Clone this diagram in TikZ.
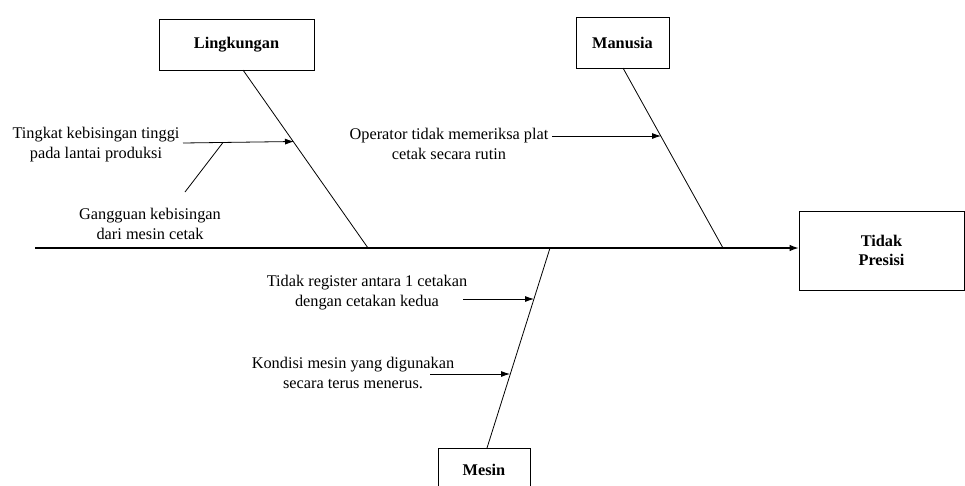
\documentclass[tikz,border=0pt]{standalone}
\usepackage{fontspec}
\setmainfont{Liberation Serif}
\usetikzlibrary{arrows.meta}
\begin{document}
\begin{tikzpicture}[x=1pt,y=-1pt,
  box/.style={draw,line width=0.8pt,inner sep=0pt,font=\fontsize{16.3}{19}\selectfont\bfseries,align=center},
  lbl/.style={inner sep=0pt,font=\fontsize{16.3}{20}\selectfont,align=center},
  bone/.style={line width=0.8pt},
  cause/.style={line width=0.8pt,-{Latex[length=9pt,width=6pt]}},
  spine/.style={line width=1.1pt,-{Latex[length=9pt,width=6.5pt]}}]
\useasboundingbox (0,0) rectangle (965,485);
% boxes
\node[box,minimum width=155pt,minimum height=51pt] (ling) at (236.5,44.5) {Lingkungan};
\node[box,minimum width=93pt,minimum height=51pt] (manu) at (622.5,42.5) {Manusia};
\node[box,minimum width=92pt,minimum height=60pt] (mesin) at (484,478) {};
\node[font=\fontsize{16.3}{19}\selectfont\bfseries] (mesinL) at (484,470) {Mesin};
\node[box,minimum width=165pt,minimum height=79pt] (effect) at (881.5,250.5) {Tidak\\Presisi};
% spine
\coordinate (tail) at (35,248);
\draw[spine] (tail) -- (tail -| effect.west);
% bone ends on spine
\coordinate (lingS) at (368,248);
\coordinate (manuS) at (723,248);
\coordinate (mesinS) at (550,248);
\coordinate (lingT) at (243,70);
\coordinate (manuT) at (623,68);
\coordinate (mesinT) at (487,448);
\draw[bone] (lingT) -- (lingS);
\draw[bone] (manuT) -- (manuS);
\draw[bone] (mesinT) -- (mesinS);
% cause texts
\node[lbl] (t1) at (96,145) {Tingkat kebisingan tinggi\\pada lantai produksi};
\node[lbl] (t2) at (150,224) {Gangguan kebisingan\\dari mesin cetak};
\node[lbl] (t3) at (449,144) {Operator tidak memeriksa plat\\cetak secara rutin};
\node[lbl] (t4) at (367,293) {Tidak register antara 1 cetakan\\dengan cetakan kedua};
\node[lbl] (t5) at (353,373) {Kondisi mesin yang digunakan\\secara terus menerus.};
% arrows
\coordinate (a1s) at (183,143);
\coordinate (a1e) at (294,141.5);
\coordinate (j1) at (223,142.5);
\coordinate (g1) at (185,192);
\draw[cause] (a1s) -- (a1e);
\draw[bone] (g1) -- (j1);
\coordinate (a3s) at (552,136);
\coordinate (a3e) at (661,136);
\draw[cause] (a3s) -- (a3e);
\coordinate (a4s) at (463,299);
\coordinate (a4e) at (534,299);
\draw[cause] (a4s) -- (a4e);
\coordinate (a5s) at (430,374);
\coordinate (a5e) at (510,374);
\draw[cause] (a5s) -- (a5e);
\end{tikzpicture}
\end{document}
